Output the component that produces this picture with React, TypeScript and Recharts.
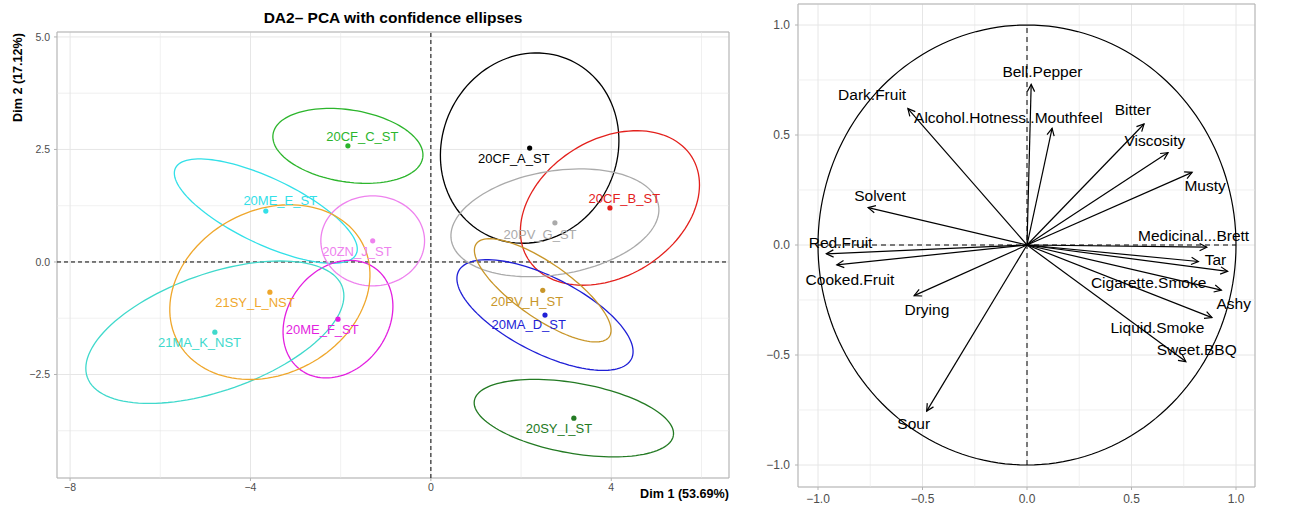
import {
  ScatterChart,
  Scatter,
  XAxis,
  YAxis,
  CartesianGrid,
  ReferenceLine,
  ReferenceArea,
} from 'recharts';

// ---- left panel: individuals + confidence ellipses ----
const groups = [
  '20CF_A_ST',
  '20CF_B_ST',
  '20CF_C_ST',
  '20MA_D_ST',
  '20ME_E_ST',
  '20ME_F_ST',
  '20PV_G_ST',
  '20PV_H_ST',
  '20SY_I_ST',
  '20ZN_J_ST',
  '21MA_K_NST',
  '21SY_L_NST',
];
const centerX = [2.19, 3.97, -1.84, 2.53, -3.66, -2.06, 2.75, 2.48, 3.17, -1.29, -4.79, -3.57];
const centerY = [2.53, 1.2, 2.58, -1.18, 1.13, -1.27, 0.87, -0.63, -3.47, 0.47, -1.56, -0.67];
// ellipse semi axes (Dim units) and tilt in degrees
const ellipseA = [2.15, 2.14, 1.68, 2.15, 2.22, 1.4, 2.33, 1.8, 2.24, 1.15, 3.0, 2.32];
const ellipseB = [1.94, 1.52, 0.8, 0.84, 0.73, 1.11, 1.15, 0.61, 0.78, 1.0, 1.3, 1.82];
const ellipseAngle = [65, 32, -9, -27, -25.5, 54, 9.5, -35, -10, 0, 19.5, 28];
const labelX = [1.84, 4.29, -1.52, 2.17, -3.34, -2.41, 2.42, 2.13, 2.84, -1.64, -5.13, -3.9];
const labelY = [2.31, 1.42, 2.78, -1.4, 1.36, -1.49, 0.62, -0.87, -3.71, 0.24, -1.8, -0.89];

const groupColors = [
  '#000000',
  '#E3201C',
  '#2CB52C',
  '#1F1FD6',
  '#33E0E8',
  '#E31FE0',
  '#AAAAAA',
  '#C8962A',
  '#237A23',
  '#EE82EE',
  '#40D9CC',
  '#EFA72C',
];

const indXTicks = [-8, -4, 0, 4];
const indYTicks = [-2.5, 0, 2.5, 5];
const indXMinor = [-6, -2, 2, 6];
const indYMinor = [-3.75, -1.25, 1.25, 3.75];
const indXDomain = [-8.29, 6.61];
const indYDomain = [-4.8, 5.11];

// ---- right panel: variables correlation circle ----
const variables = [
  'Bell.Pepper',
  'Dark.Fruit',
  'Alcohol.Hotness..Mouthfeel',
  'Bitter',
  'Viscosity',
  'Musty',
  'Solvent',
  'Medicinal...Brett',
  'Red.Fruit',
  'Cooked.Fruit',
  'Tar',
  'Cigarette.Smoke',
  'Ashy',
  'Liquid.Smoke',
  'Sweet.BBQ',
  'Drying',
  'Sour',
];
const varDim1 = [0.02, -0.57, 0.12, 0.56, 0.675, 0.79, -0.76, 0.86, -0.96, -0.91, 0.82, 0.96, 0.93, 0.885, 0.76, -0.54, -0.48];
const varDim2 = [0.73, 0.62, 0.53, 0.55, 0.42, 0.33, 0.17, -0.01, -0.04, -0.09, -0.075, -0.12, -0.205, -0.33, -0.53, -0.23, -0.755];
const varLabelX = [0.074, -0.741, -0.089, 0.506, 0.612, 0.852, -0.703, 0.797, -0.892, -0.847, 0.902, 0.582, 0.989, 0.624, 0.812, -0.479, -0.542];
const varLabelY = [0.788, 0.682, 0.58, 0.614, 0.477, 0.27, 0.227, 0.044, 0.011, -0.156, -0.068, -0.17, -0.268, -0.374, -0.474, -0.291, -0.81];

const varTicks = [-1, -0.5, 0, 0.5, 1];
const varMinor = [-0.75, -0.25, 0.25, 0.75];
const varXDomain = [-1.0957, 1.0909];
const varYDomain = [-1.1, 1.0955];

const FONT = '"Liberation Sans", Arial, Helvetica, sans-serif';
const GRID = '#e6e6e6';
const BORDER = '#b3b3b3';
const TICK_TEXT = '#4d4d4d';

const ellipsePoints = (i: number) => {
  const t = (ellipseAngle[i] * Math.PI) / 180;
  return Array.from({ length: 121 }, (_, k) => {
    const u = (k / 120) * 2 * Math.PI;
    const ex = ellipseA[i] * Math.cos(u);
    const ey = ellipseB[i] * Math.sin(u);
    return {
      x: centerX[i] + ex * Math.cos(t) - ey * Math.sin(t),
      y: centerY[i] + ex * Math.sin(t) + ey * Math.cos(t),
    };
  });
};

const unitCircle = Array.from({ length: 181 }, (_, k) => {
  const u = (k / 180) * 2 * Math.PI;
  return { x: Math.cos(u), y: Math.sin(u) };
});

const fmtMinus = (v: number, digits: number) =>
  v.toFixed(digits).replace('-', '\u2212');

const noDot = () => <g />;

function ArrowShape(props: any) {
  const { x1, y1, x2, y2 } = props;
  const ang = Math.atan2(y2 - y1, x2 - x1);
  const len = 8;
  const phi = (27 * Math.PI) / 180;
  const ax = x2 - len * Math.cos(ang - phi);
  const ay = y2 - len * Math.sin(ang - phi);
  const bx = x2 - len * Math.cos(ang + phi);
  const by = y2 - len * Math.sin(ang + phi);
  return (
    <g>
      <line x1={x1} y1={y1} x2={x2} y2={y2} stroke="#000" strokeWidth={1.2} />
      <polyline
        points={`${ax},${ay} ${x2},${y2} ${bx},${by}`}
        fill="none"
        stroke="#000"
        strokeWidth={1.2}
      />
    </g>
  );
}

function IndividualsChart() {
  const points = groups.map((g, i) => ({ x: centerX[i], y: centerY[i], name: g, color: groupColors[i] }));
  const labels = groups.map((g, i) => ({ x: labelX[i], y: labelY[i], name: g, color: groupColors[i] }));

  return (
    <ScatterChart width={740} height={511} margin={{ top: 32, right: 11, bottom: 0, left: 0 }}>
      <CartesianGrid stroke={GRID} strokeWidth={1} />
      {indXMinor.map((v) => (
        <ReferenceLine key={`mx${v}`} x={v} stroke={GRID} strokeWidth={0.6} />
      ))}
      {indYMinor.map((v) => (
        <ReferenceLine key={`my${v}`} y={v} stroke={GRID} strokeWidth={0.6} />
      ))}
      <XAxis
        type="number"
        dataKey="x"
        domain={indXDomain}
        allowDataOverflow
        ticks={indXTicks}
        tickFormatter={(v) => fmtMinus(v, 0)}
        height={33}
        axisLine={false}
        tickSize={3}
        tickMargin={3}
        tickLine={{ stroke: BORDER }}
        tick={{ fill: TICK_TEXT, fontSize: 10.5 }}
      />
      <YAxis
        type="number"
        dataKey="y"
        domain={indYDomain}
        allowDataOverflow
        ticks={indYTicks}
        tickFormatter={(v) => fmtMinus(v, 1)}
        width={57}
        axisLine={false}
        tickSize={3}
        tickMargin={4}
        tickLine={{ stroke: BORDER }}
        tick={{ fill: TICK_TEXT, fontSize: 10.5 }}
      />
      <ReferenceLine y={0} stroke="#000" strokeDasharray="4 3" strokeWidth={1} />
      <ReferenceLine x={0} stroke="#000" strokeDasharray="4 3" strokeWidth={1} />
      {groups.map((g, i) => (
        <Scatter
          key={`ell${g}`}
          data={ellipsePoints(i)}
          line={{ stroke: groupColors[i], strokeWidth: 1.3 }}
          lineType="joint"
          shape={noDot}
          isAnimationActive={false}
        />
      ))}
      <Scatter
        data={points}
        isAnimationActive={false}
        shape={(p: any) => <circle cx={p.cx} cy={p.cy} r={2.6} fill={p.payload.color} />}
      />
      <Scatter
        data={labels}
        isAnimationActive={false}
        shape={(p: any) => (
          <text
            x={p.cx}
            y={p.cy}
            fill={p.payload.color}
            fontSize={13}
            textAnchor="middle"
            dominantBaseline="central"
          >
            {p.payload.name}
          </text>
        )}
      />
      <ReferenceArea
        x1={indXDomain[0]}
        x2={indXDomain[1]}
        y1={indYDomain[0]}
        y2={indYDomain[1]}
        fill="none"
        stroke={BORDER}
        strokeWidth={1}
        ifOverflow="visible"
      />
    </ScatterChart>
  );
}

function VariablesChart() {
  const labels = variables.map((v, i) => ({ x: varLabelX[i], y: varLabelY[i], name: v }));

  return (
    <ScatterChart width={550} height={511} margin={{ top: 4, right: 35, bottom: 0, left: 0 }}>
      <CartesianGrid stroke={GRID} strokeWidth={1} />
      {varMinor.map((v) => (
        <ReferenceLine key={`vx${v}`} x={v} stroke={GRID} strokeWidth={0.6} />
      ))}
      {varMinor.map((v) => (
        <ReferenceLine key={`vy${v}`} y={v} stroke={GRID} strokeWidth={0.6} />
      ))}
      <XAxis
        type="number"
        dataKey="x"
        domain={varXDomain}
        allowDataOverflow
        ticks={varTicks}
        tickFormatter={(v) => fmtMinus(v, 1)}
        height={24}
        axisLine={false}
        tickSize={3}
        tickMargin={4}
        tickLine={{ stroke: BORDER }}
        tick={{ fill: TICK_TEXT, fontSize: 12 }}
      />
      <YAxis
        type="number"
        dataKey="y"
        domain={varYDomain}
        allowDataOverflow
        ticks={varTicks}
        tickFormatter={(v) => fmtMinus(v, 1)}
        width={58}
        axisLine={false}
        tickSize={3}
        tickMargin={5}
        tickLine={{ stroke: BORDER }}
        tick={{ fill: TICK_TEXT, fontSize: 12 }}
      />
      <ReferenceLine
        segment={[{ x: -1, y: 0 }, { x: 1, y: 0 }]}
        stroke="#000"
        strokeDasharray="5 4"
        strokeWidth={1}
      />
      <ReferenceLine
        segment={[{ x: 0, y: -1 }, { x: 0, y: 1 }]}
        stroke="#000"
        strokeDasharray="5 4"
        strokeWidth={1}
      />
      <Scatter
        data={unitCircle}
        line={{ stroke: '#000', strokeWidth: 1.2 }}
        lineType="joint"
        shape={noDot}
        isAnimationActive={false}
      />
      {variables.map((v, i) => (
        <ReferenceLine
          key={`arr${v}`}
          segment={[{ x: 0, y: 0 }, { x: varDim1[i], y: varDim2[i] }]}
          shape={ArrowShape}
        />
      ))}
      <Scatter
        data={labels}
        isAnimationActive={false}
        shape={(p: any) => (
          <text
            x={p.cx}
            y={p.cy}
            fill="#000"
            fontSize={15.5}
            textAnchor="middle"
            dominantBaseline="central"
          >
            {p.payload.name}
          </text>
        )}
      />
      <ReferenceArea
        x1={varXDomain[0]}
        x2={varXDomain[1]}
        y1={varYDomain[0]}
        y2={varYDomain[1]}
        fill="none"
        stroke={BORDER}
        strokeWidth={1}
        ifOverflow="visible"
      />
    </ScatterChart>
  );
}

export default function App() {
  return (
    <div
      style={{
        position: 'absolute',
        left: 0,
        top: 0,
        width: 1290,
        height: 511,
        background: '#fff',
        fontFamily: FONT,
      }}
    >
      <div style={{ position: 'absolute', left: 0, top: 0 }}>
        <IndividualsChart />
      </div>
      <div style={{ position: 'absolute', left: 740, top: 0 }}>
        <VariablesChart />
      </div>
      {/* titles */}
      <svg
        width={1290}
        height={511}
        style={{ position: 'absolute', left: 0, top: 0, pointerEvents: 'none' }}
      >
        <text x={393} y={17} textAnchor="middle" dominantBaseline="central" fontWeight="bold" fontSize={15.5}>
          DA2– PCA with confidence ellipses
        </text>
        <text
          transform="translate(18, 33) rotate(-90)"
          textAnchor="end"
          dominantBaseline="central"
          fontWeight="bold"
          fontSize={12.6}
        >
          Dim 2 (17.12%)
        </text>
        <text x={729} y={494} textAnchor="end" dominantBaseline="central" fontWeight="bold" fontSize={12.6}>
          Dim 1 (53.69%)
        </text>
      </svg>
    </div>
  );
}
